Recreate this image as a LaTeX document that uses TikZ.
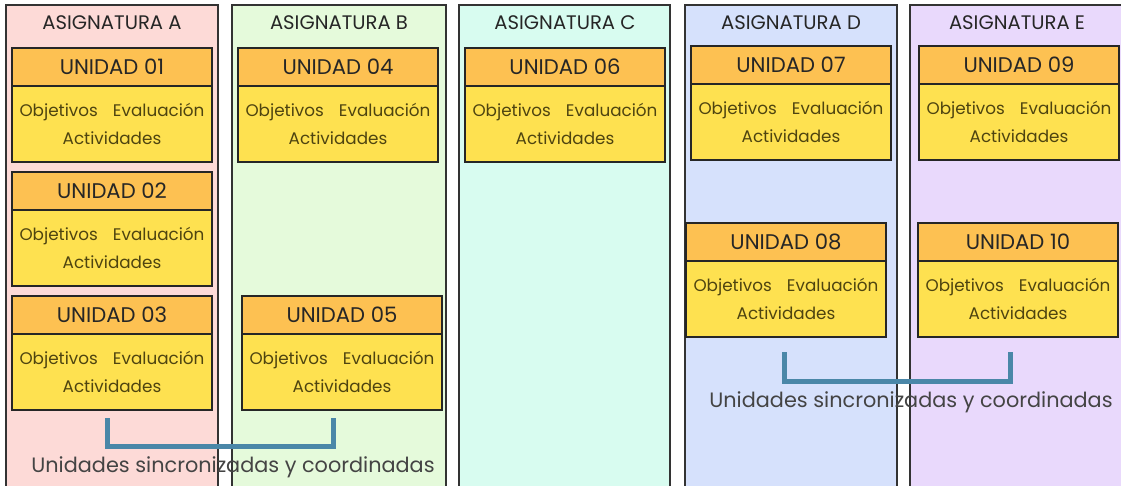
\documentclass[tikz,border=0pt]{standalone}
\usepackage{fontspec}
\setmainfont{Poppins}
\definecolor{colA}{HTML}{FDDAD7}
\definecolor{colB}{HTML}{E5FADB}
\definecolor{colC}{HTML}{D8FCF0}
\definecolor{colD}{HTML}{D6E1FC}
\definecolor{colE}{HTML}{E9D9FC}
\definecolor{uhfill}{HTML}{FDC152}
\definecolor{ubfill}{HTML}{FEE150}
\definecolor{bodytxt}{HTML}{4E4410}
\definecolor{brk}{HTML}{4A87A8}
\definecolor{graytxt}{HTML}{444444}
\tikzset{
  col/.style={draw=black!80, line width=1.3pt, minimum width=#1, minimum height=490pt, anchor=north west, inner sep=0pt, outer sep=0pt},
  coltitle/.style={font=\fontsize{19.6}{21}\selectfont, text=black!85},
  uhead/.style={draw=black!85, line width=1.3pt, fill=uhfill, minimum width=200pt, minimum height=38pt, inner sep=0pt, outer sep=0pt, anchor=north west, font=\fontsize{21.2}{23}\selectfont, text=black!85},
  ubody/.style={draw=black!85, line width=1.3pt, fill=ubfill, minimum width=200pt, minimum height=76pt, inner sep=0pt, outer sep=0pt, anchor=north, align=center, font=\fontsize{16.8}{28}\selectfont, text=bodytxt},
  bracketline/.style={draw=brk, line width=5pt},
  synctext/.style={font=\fontsize{20.8}{22}\selectfont, text=graytxt}
}
\newcommand\unidad[4]{%
  \node[uhead] (#1h) at (#2,#3) {UNIDAD #4};
  \node[ubody] (#1b) at (#1h.south) {Objetivos\hspace{0.9em}Evaluación\\Actividades};
}
\begin{document}
\begin{tikzpicture}[x=1pt,y=-1pt]
\useasboundingbox (0,0) rectangle (1121,486);
\clip (0,0) rectangle (1121,486);
\fill[white] (0,0) rectangle (1121,486);
% columns
\node[col=212pt, fill=colA] (cA) at (6,5) {};
\node[col=214pt, fill=colB] (cB) at (232,5) {};
\node[col=211pt, fill=colC] (cC) at (459,5) {};
\node[col=212pt, fill=colD] (cD) at (685,5) {};
\node[col=214pt, fill=colE] (cE) at (910,5) {};
\node[coltitle] (tA) at (112,23) {ASIGNATURA A};
\node[coltitle] (tB) at (339,23) {ASIGNATURA B};
\node[coltitle] (tC) at (565,23) {ASIGNATURA C};
\node[coltitle] (tD) at (791,23) {ASIGNATURA D};
\node[coltitle] (tE) at (1017,23) {ASIGNATURA E};
% units
\unidad{u01}{12}{48}{01}
\unidad{u02}{12}{172}{02}
\unidad{u03}{12}{296}{03}
\unidad{u04}{238}{48}{04}
\unidad{u05}{242}{296}{05}
\unidad{u06}{465}{48}{06}
\unidad{u07}{691}{46}{07}
\unidad{u09}{919}{46}{09}
\unidad{u08}{686}{223}{08}
\unidad{u10}{918}{223}{10}
% brackets
\coordinate (s1l) at (107,418);
\coordinate (s1r) at (333,418);
\draw[bracketline] (s1l) -- ++(0,28) -| (s1r);
\coordinate (s2l) at (784,352);
\coordinate (s2r) at (1010,352);
\draw[bracketline] (s2l) -- ++(0,29) -| (s2r);
\node[synctext] (sy1) at (233,467) {Unidades sincronizadas y coordinadas};
\node[synctext] (sy2) at (911,402) {Unidades sincronizadas y coordinadas};
\end{tikzpicture}
\end{document}
